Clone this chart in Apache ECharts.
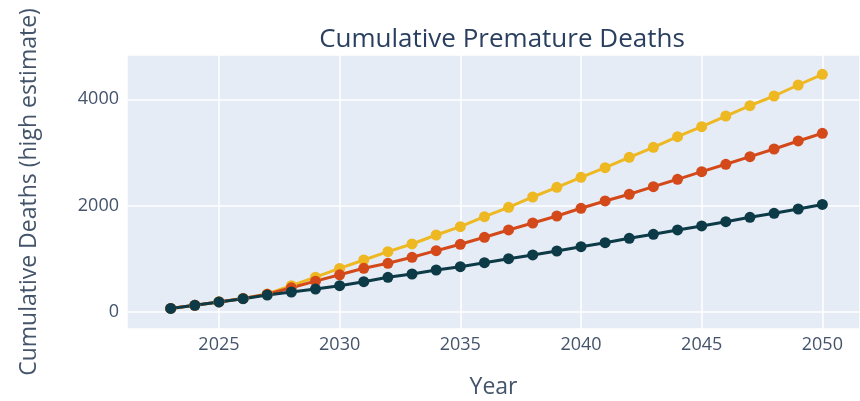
<!DOCTYPE html>
<html>
<head>
<meta charset="utf-8">
<script src="https://cdn.jsdelivr.net/npm/echarts@6/dist/echarts.min.js"></script>
<style>
  * { margin: 0; padding: 0; }
  body { background: #ffffff; }
  #chart { width: 860px; height: 401px; }
</style>
</head>
<body>
<div id="chart"></div>
<script>
// years on the x axis
var years = [2023, 2024, 2025, 2026, 2027, 2028, 2029, 2030, 2031, 2032, 2033, 2034, 2035, 2036,
  2037, 2038, 2039, 2040, 2041, 2042, 2043, 2044, 2045, 2046, 2047, 2048, 2049, 2050]

// cumulative deaths
var highSeries = [62, 122, 185, 250, 335, 490, 650, 815, 974, 1130, 1275, 1444, 1601, 1789,
  1966, 2160, 2343, 2531, 2712, 2908, 3096, 3296, 3484, 3685, 3880, 4062, 4269, 4471]
var midSeries = [62, 121, 184, 248, 328, 450, 575, 695, 817, 911, 1024, 1149, 1269, 1401,
  1539, 1670, 1802, 1947, 2085, 2211, 2354, 2493, 2637, 2776, 2919, 3064, 3215, 3360]
var lowSeries = [62, 120, 183, 245, 314, 371, 427, 490, 565, 647, 710, 785, 848, 923,
  998, 1068, 1143, 1224, 1299, 1382, 1458, 1539, 1614, 1695, 1778, 1853, 1934, 2020]

var yTicks = [0, 2000, 4000]
var xTicks = [2025, 2030, 2035, 2040, 2045, 2050]

function pairs (values) {
  return years.map(function (y, i) { return [y, values[i]] })
}

function lineSeries (name, color, values) {
  return {
    name: name,
    type: 'line',
    data: pairs(values),
    symbol: 'circle',
    symbolSize: 11,
    showSymbol: true,
    lineStyle: { color: color, width: 3 },
    itemStyle: { color: color },
    animation: false
  }
}

var textColor = '#44546b'
var myChart = echarts.init(document.getElementById('chart'))
myChart.setOption({
  backgroundColor: '#ffffff',
  title: {
    text: 'Cumulative Premature Deaths',
    left: 497,
    top: 22,
    textAlign: 'center',
    textStyle: { color: '#2a3f5f', fontFamily: 'Open Sans', fontSize: 26, fontWeight: 'normal' }
  },
  grid: {
    left: 127, right: 0, top: 55, bottom: 72,
    outerBoundsMode: 'none',
    containLabel: false,
    backgroundColor: '#e5ecf6', show: true, borderWidth: 0
  },
  xAxis: {
    type: 'value',
    min: 2021.19,
    max: 2051.56,
    splitNumber: 6,
    name: 'Year',
    nameLocation: 'middle',
    nameGap: 47,
    nameTextStyle: { color: textColor, fontFamily: 'Open Sans', fontSize: 23 },
    axisLine: { show: false },
    axisTick: { show: false },
    axisLabel: {
      color: textColor,
      fontFamily: 'Open Sans',
      fontSize: 18,
      margin: 7,
      showMinLabel: false,
      showMaxLabel: false,
      formatter: function (v) { return xTicks.indexOf(v) >= 0 ? String(v) : '' }
    },
    splitLine: { lineStyle: { color: '#ffffff', width: 1.5 } }
  },
  yAxis: {
    type: 'value',
    min: -326,
    max: 4834,
    splitNumber: 3,
    name: 'Cumulative Deaths (high estimate)',
    nameLocation: 'middle',
    nameGap: 86,
    nameTextStyle: { color: textColor, fontFamily: 'Open Sans', fontSize: 23 },
    axisLine: { show: false },
    axisTick: { show: false },
    axisLabel: {
      color: textColor,
      fontFamily: 'Open Sans',
      fontSize: 18,
      margin: 8,
      showMinLabel: false,
      showMaxLabel: false,
      formatter: function (v) { return yTicks.indexOf(v) >= 0 ? String(v) : '' }
    },
    splitLine: { lineStyle: { color: '#ffffff', width: 1.5 } }
  },
  series: [
    lineSeries('High', '#eeb822', highSeries),
    lineSeries('Medium', '#d4491a', midSeries),
    lineSeries('Low', '#0c3a46', lowSeries)
  ]
})
</script>
</body>
</html>
